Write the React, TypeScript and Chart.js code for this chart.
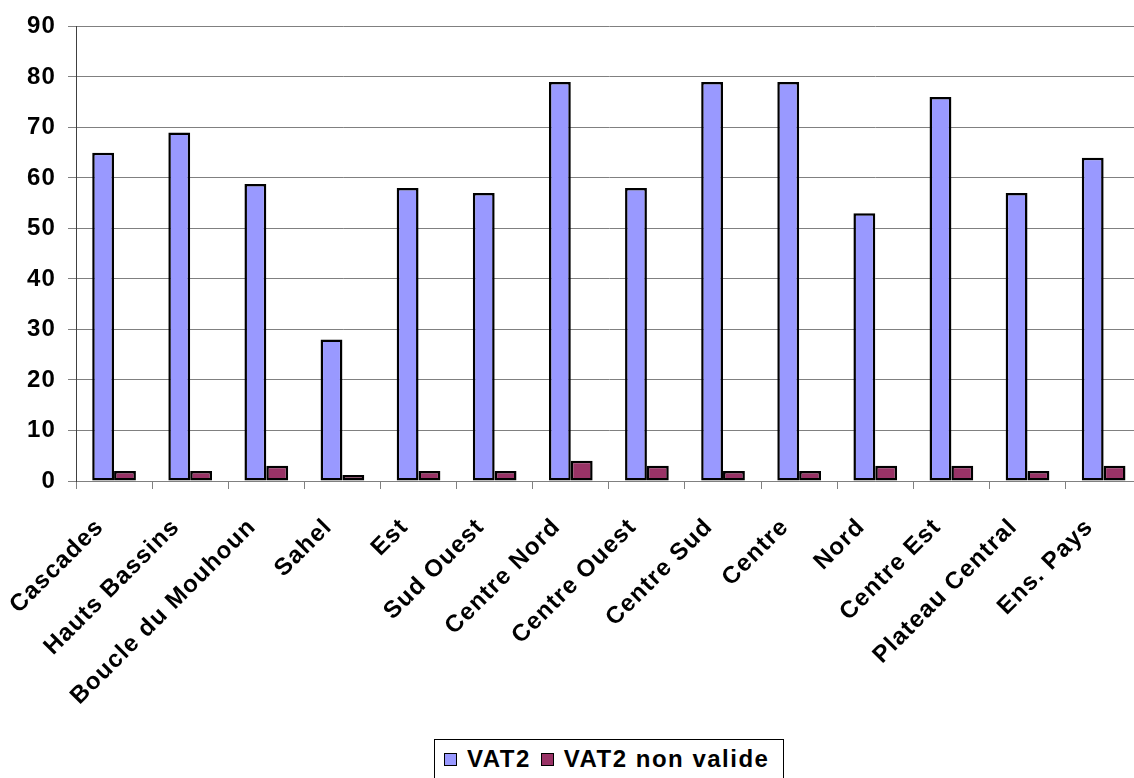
import React, { useEffect, useRef } from "react";
import { Chart, registerables } from "chart.js";

Chart.register(...registerables);

// Regions, plus the national total in the last column
const categories = [
  "Cascades",
  "Hauts Bassins",
  "Boucle du Mouhoun",
  "Sahel",
  "Est",
  "Sud Ouest",
  "Centre Nord",
  "Centre Ouest",
  "Centre Sud",
  "Centre",
  "Nord",
  "Centre Est",
  "Plateau Central",
  "Ens. Pays",
];

const seriesNames = ["VAT2", "VAT2 non valide"];
const seriesColors = ["#9999FF", "#993366"];

const vat2 = [65, 69, 58.8, 28, 58, 57, 79, 58, 79, 79, 53, 76, 57, 64];
const vat2NonValide = [2, 2, 3, 1.2, 2, 2, 4, 3, 2, 2, 3, 3, 2, 3];

const yMin = 0;
const yMax = 90;
const yStep = 10;

const FONT_FAMILY = "'Liberation Sans', Arial, Helvetica, sans-serif";
const FONT_SIZE = 24;
const LETTER_SPACING = "1.2px";

// Wider glyph spacing for every text drawn on the canvas
const spacingPlugin = {
  id: "letterSpacing",
  beforeUpdate(chart: any) {
    chart.ctx.letterSpacing = LETTER_SPACING;
  },
  beforeDraw(chart: any) {
    chart.ctx.letterSpacing = LETTER_SPACING;
  },
};

export default function App() {
  const canvasRef = useRef<HTMLCanvasElement | null>(null);

  useEffect(() => {
    const canvas = canvasRef.current;
    if (!canvas) return;
    const chart = new Chart(canvas, {
      type: "bar",
      data: {
        labels: categories,
        datasets: [
          {
            label: seriesNames[0],
            data: vat2,
            backgroundColor: seriesColors[0],
            borderColor: "#000000",
            borderWidth: 2.5,
            borderSkipped: false,
          },
          {
            label: seriesNames[1],
            data: vat2NonValide,
            backgroundColor: seriesColors[1],
            borderColor: "#000000",
            borderWidth: 2.5,
            borderSkipped: false,
          },
        ],
      },
      options: {
        responsive: false,
        animation: false,
        devicePixelRatio: 1,
        layout: { padding: { top: 25, left: 0, right: 0, bottom: 0 } },
        datasets: {
          bar: { categoryPercentage: 0.574, barPercentage: 1 },
        },
        plugins: {
          legend: { display: false },
          tooltip: { enabled: false },
        },
        scales: {
          x: {
            offset: true,
            afterFit(scale: any) {
              scale.height = 297;
            },
            grid: {
              offset: true,
              drawOnChartArea: false,
              drawTicks: true,
              tickLength: 8,
              color: "#808080",
              lineWidth: 1,
            },
            border: { display: true, color: "#808080", width: 1 },
            ticks: {
              autoSkip: false,
              maxRotation: 45,
              minRotation: 45,
              labelOffset: -14,
              padding: 24,
              color: "#000000",
              font: { family: FONT_FAMILY, size: FONT_SIZE, weight: "bold" },
            },
          },
          y: {
            min: yMin,
            max: yMax,
            afterFit(scale: any) {
              scale.width = 76;
            },
            grid: {
              color: "#808080",
              lineWidth: 1,
              drawTicks: true,
              tickLength: 8,
            },
            border: { display: true, color: "#404040", width: 1 },
            ticks: {
              stepSize: yStep,
              padding: 12,
              color: "#000000",
              font: { family: FONT_FAMILY, size: FONT_SIZE, weight: "bold" },
            },
          },
        },
      },
      plugins: [spacingPlugin],
    });
    return () => chart.destroy();
  }, []);

  const legendText: React.CSSProperties = {
    fontFamily: FONT_FAMILY,
    fontWeight: "bold",
    fontSize: FONT_SIZE,
    lineHeight: "24px",
    letterSpacing: "1.5px",
    color: "#000",
    whiteSpace: "nowrap",
  };

  return (
    <div
      style={{
        position: "absolute",
        left: 0,
        top: 0,
        width: 1134,
        height: 778,
        overflow: "hidden",
        background: "#ffffff",
      }}
    >
      <canvas
        ref={canvasRef}
        width={1148}
        height={778}
        style={{ display: "block", width: 1148, height: 778 }}
      />
      <div
        style={{
          position: "absolute",
          left: 434,
          top: 739,
          width: 350,
          height: 46,
          boxSizing: "border-box",
          border: "1px solid #000",
          background: "#fff",
          display: "flex",
          alignItems: "flex-start",
          paddingTop: 7,
          paddingLeft: 9,
        }}
      >
        {seriesNames.map((name, i) => (
          <div
            key={name}
            style={{
              display: "flex",
              alignItems: "center",
              marginRight: i === 0 ? 10 : 0,
            }}
          >
            <span
              style={{
                display: "inline-block",
                width: 13,
                height: 13,
                boxSizing: "border-box",
                border: "1px solid #000",
                background: seriesColors[i],
                marginRight: 10,
              }}
            />
            <span style={legendText}>{name}</span>
          </div>
        ))}
      </div>
    </div>
  );
}
